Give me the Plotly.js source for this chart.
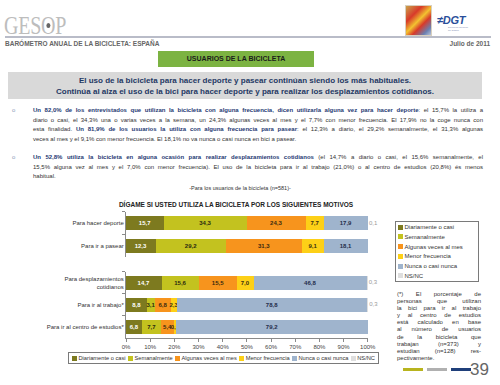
<!DOCTYPE html>
<html><head><meta charset="utf-8">
<script src="https://cdn.plot.ly/plotly-3.0.1.min.js"></script>
<style>
body{margin:0;width:500px;height:385px;overflow:hidden;background:#fff;font-family:"Liberation Sans",Arial,sans-serif;position:relative}
.abs{position:absolute}
.jl{display:block;text-align:justify;text-align-last:justify;white-space:nowrap}
.ll{display:block;text-align:left;white-space:nowrap}
.b{font-weight:bold;color:#1f3a73}
.leg-item{display:flex;align-items:center;white-space:nowrap;color:#333}
.sw{display:inline-block;width:5px;height:5px;margin-right:1.5px}
</style></head><body>

<div class="abs" style="left:4px;top:12px;font-family:'Liberation Serif';font-size:25px;color:#bdbdbd;transform:scaleX(0.8);transform-origin:left top;letter-spacing:-0.3px">GES<span style="position:relative">O<span style="position:absolute;left:7px;top:11px;width:5px;height:5px;border-radius:50%;background:#666"></span></span>P</div>

<div class="abs" style="left:405px;top:5px;width:25px;height:29px;background:linear-gradient(135deg,#c9a24a 0%,#d83a2a 30%,#f2c230 50%,#d83a2a 65%,#6a7fb0 85%,#b7c3d8 100%);border:1px solid #d8d0c0"></div>
<div class="abs" style="left:437px;top:14px;font-size:11px;font-weight:bold;font-style:italic;color:#2a4f9a;letter-spacing:-0.3px">≠DGT</div>
<div class="abs" style="left:448px;top:26px;font-size:2.5px;color:#7a8ab0;line-height:3px">Dirección General<br>de Tráfico</div>

<div class="abs" style="left:5px;top:36px;width:486px;height:2px;background:#b9bcc8"></div>
<div class="abs" style="left:5px;top:40px;font-size:6.5px;font-weight:bold;color:#666">BARÓMETRO ANUAL DE LA BICICLETA: ESPAÑA</div>
<div class="abs" style="left:400px;width:90px;top:40px;font-size:6.5px;font-weight:bold;color:#666;text-align:right">Julio de 2011</div>

<div class="abs" style="left:158px;top:51px;width:156px;height:16px;background:#7cb342;font-size:7px;font-weight:bold;color:#1b1b1b;text-align:center;line-height:16px">USUARIOS DE LA BICICLETA</div>

<div class="abs" style="left:8px;top:72px;width:474px;height:27px;background:#d9d9d9;font-size:8px;font-weight:bold;color:#1f3864;text-align:center;line-height:11px;padding-top:3px;box-sizing:border-box">El uso de la bicicleta para hacer deporte y pasear continúan siendo los más habituales.<br>Continúa al alza el uso de la bici para hacer deporte y para realizar los desplazamientos cotidianos.</div>

<div class="abs" style="left:12px;top:106px;font-size:6px;color:#8a9ab8;line-height:9.7px">o</div>
<div class="abs" style="left:33px;top:106px;width:450px;font-size:6px;color:#333;line-height:9.7px">
<span class="jl"><span class="b">Un 82,0% de los entrevistados que utilizan la bicicleta con alguna frecuencia, dicen utilizarla alguna vez para hacer deporte</span>: el 15,7% la utiliza a</span>
<span class="jl">diario o casi, el 34,3% una o varias veces a la semana, un 24,3% algunas veces al mes y el 7,7% con menor frecuencia. El 17,9% no la coge nunca con</span>
<span class="jl">esta finalidad. <span class="b">Un 81,9% de los usuarios la utiliza con alguna frecuencia para pasear</span>: el 12,3% a diario, el 29,2% semanalmente, el 31,3% algunas</span>
<span class="ll">veces al mes y el 9,1% con menor frecuencia. El 18,1% no va nunca o casi nunca en bici a pasear.</span>
</div>

<div class="abs" style="left:12px;top:153px;font-size:6px;color:#8a9ab8;line-height:9.7px">o</div>
<div class="abs" style="left:33px;top:153px;width:450px;font-size:6px;color:#333;line-height:9.7px">
<span class="jl"><span class="b">Un 52,8% utiliza la bicicleta en alguna ocasión para realizar desplazamientos cotidianos</span> (el 14,7% a diario o casi, el 15,6% semanalmente, el</span>
<span class="jl">15,5% alguna vez al mes y el 7,0% con menor frecuencia). El uso de la bicicleta para ir al trabajo (21,0%) o al centro de estudios (20,8%) és menos</span>
<span class="ll">habitual.</span>
</div>

<div class="abs" style="left:140px;width:200px;top:185px;font-size:5.5px;color:#333;text-align:center">-Para los usuarios de la bicicleta (n=581)-</div>
<div class="abs" style="left:80px;width:312px;top:201px;font-size:6.5px;font-weight:bold;color:#222;text-align:center">DÍGAME SI USTED UTILIZA LA BICICLETA POR LOS SIGUIENTES MOTIVOS</div>

<div id="legR" class="abs" style="left:395px;top:221px;width:84px;height:61px;border:1px solid #7a7a7a;box-sizing:border-box;padding:2px 2px;font-size:6px;display:flex;flex-direction:column;justify-content:space-between"></div>
<div id="legB" class="abs" style="left:68px;top:352px;width:311px;height:12px;border:1px solid #7a7a7a;box-sizing:border-box;padding:0 3px;font-size:5.7px;display:flex;align-items:center;justify-content:space-between"></div>

<div class="abs" style="left:397px;top:291px;width:84px;font-size:6px;color:#333;line-height:7.1px">
<span class="jl">(*) El porcentaje de</span>
<span class="jl">personas que utilizan</span>
<span class="jl">la bici para ir al trabajo</span>
<span class="jl">y al centro de estudios</span>
<span class="jl">está calculado en base</span>
<span class="jl">al número de usuarios</span>
<span class="jl">de la bicicleta que</span>
<span class="jl">trabajan (n=373) y</span>
<span class="jl">estudian (n=128) res-</span>
<span class="ll">pectivamente.</span>
</div>

<div class="abs" style="left:403px;top:368px;width:20px;height:3px;background:#b8b41e"></div>
<div class="abs" style="left:427px;top:368px;width:20px;height:3px;background:#b0b0b0"></div>
<div class="abs" style="left:451px;top:368px;width:20px;height:3px;background:#1f3f7a"></div>
<div class="abs" style="left:470px;top:360px;font-size:17px;color:#666">39</div>

<div id="chart" class="abs" style="left:0;top:0;width:500px;height:385px"></div>

<script>
const categories = ["Para hacer deporte", "Para ir a pasear", "Para desplazamientos<br>cotidianos", "Para ir al trabajo*", "Para ir al centro de estudios*"];
const seriesNames = ["Diariamente o casi", "Semanalmente", "Algunas veces al mes", "Menor frecuencia", "Nunca o casi nunca", "NS/NC"];
const diariamente = [15.7, 12.3, 14.7, 8.8, 6.8];
const semanalmente = [34.3, 29.2, 15.6, 3.1, 7.7];
const algunasVeces = [24.3, 31.3, 15.5, 6.8, 5.4];
const menorFrecuencia = [7.7, 9.1, 7.0, 2.3, 0.9];
const nunca = [17.9, 18.1, 46.8, 78.8, 79.2];
const nsnc = [0.1, 0.0, 0.3, 0.3, 0.0];
const xTicks = [0, 10, 20, 30, 40, 50, 60, 70, 80, 90, 100];

const series = [diariamente, semanalmente, algunasVeces, menorFrecuencia, nunca, nsnc];
const colors = ["#7d7a1f", "#c3c21f", "#f7941d", "#fdd017", "#9fb4cd", "#dedede"];
const textColors = ["#ffffff", "#2a2a10", "#3a2a10", "#3a3010", "#1f2d4a", "#9a9a9a"];

const fmt = v => v.toFixed(1).replace('.', ',');
const totals = categories.map((c, k) => series.reduce((s, arr) => s + arr[k], 0));
const traces = [];
const groups = [[0, 2, 'y'], [2, 5, 'y2']];
series.forEach((vals, i) => {
  const last = i === series.length - 1;
  groups.forEach(([a, b, ya]) => {
    traces.push({
      type: 'bar', orientation: 'h',
      x: vals.slice(a, b), y: categories.slice(a, b),
      yaxis: ya, xaxis: 'x',
      name: seriesNames[i],
      marker: {color: colors[i], line: {width: 0}},
      text: last ? undefined : vals.slice(a, b).map(fmt),
      textposition: last ? 'none' : 'inside',
      insidetextanchor: 'middle',
      textangle: 0,
      constraintext: 'none',
      cliponaxis: false,
      textfont: {family: 'Liberation Sans, Arial, sans-serif', size: 6, color: textColors[i], weight: 'bold'},
      showlegend: false, hoverinfo: 'skip'
    });
  });
});
// NS/NC value labels placed just past the end of each stacked bar
groups.forEach(([a, b, ya]) => {
  traces.push({
    type: 'scatter', mode: 'text', xaxis: 'x', yaxis: ya,
    x: totals.slice(a, b), y: categories.slice(a, b),
    text: nsnc.slice(a, b).map(v => v > 0 ? '\u2009' + fmt(v) : ''),
    textposition: 'middle right', cliponaxis: false,
    textfont: {family: 'Liberation Sans, Arial, sans-serif', size: 6, color: '#9a9a9a'},
    showlegend: false, hoverinfo: 'skip'
  });
});

const yBase = {
  type: 'category', autorange: 'reversed', showline: true, linecolor: '#8a8a8a', linewidth: 1,
  ticks: 'outside', ticklen: 3, tickcolor: '#8a8a8a', tickson: 'boundaries',
  tickfont: {family: 'Liberation Sans, Arial, sans-serif', size: 6, color: '#333'},
  showgrid: false, zeroline: false, fixedrange: true, anchor: 'x'
};

const layout = {
  width: 500, height: 385,
  margin: {l: 0, r: 0, t: 0, b: 0},
  paper_bgcolor: 'rgba(0,0,0,0)', plot_bgcolor: 'rgba(0,0,0,0)',
  barmode: 'stack', bargap: 0.38,
  separators: ',.',
  showlegend: false,
  font: {family: 'Liberation Sans, Arial, sans-serif'},
  xaxis: {
    domain: [0.252, 0.7365], range: [0, 100.2], tickvals: xTicks, ticktext: xTicks.map(t => t + '%'),
    showline: true, linecolor: '#8a8a8a', ticks: 'outside', ticklen: 3, tickcolor: '#8a8a8a',
    tickfont: {family: 'Liberation Sans, Arial, sans-serif', size: 6, color: '#444'},
    showgrid: false, zeroline: false, anchor: 'y2', fixedrange: true
  },
  yaxis: Object.assign({}, yBase, {domain: [0.333, 0.450]}),
  yaxis2: Object.assign({}, yBase, {domain: [0.122, 0.294]})
};

Plotly.newPlot('chart', traces, layout, {staticPlot: true, displayModeBar: false});

function buildLegend(id) {
  const el = document.getElementById(id);
  seriesNames.forEach((n, i) => {
    const d = document.createElement('div');
    d.className = 'leg-item';
    d.innerHTML = '<span class="sw" style="background:' + colors[i] + '"></span>' + n;
    el.appendChild(d);
  });
}
buildLegend('legR');
buildLegend('legB');
</script>
</body></html>
